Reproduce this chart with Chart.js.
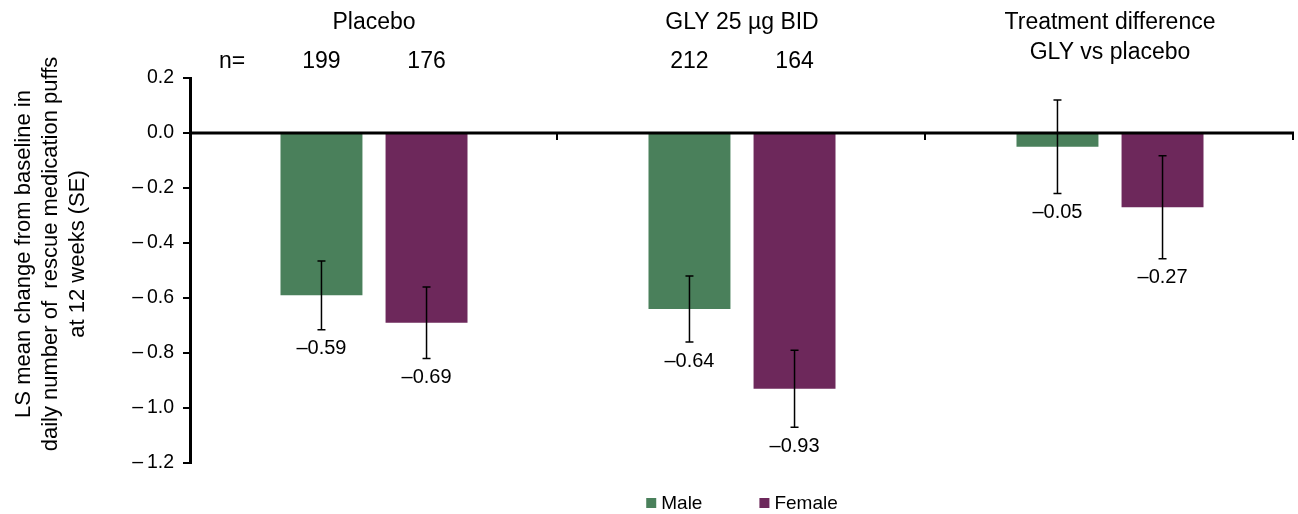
<!DOCTYPE html>
<html>
<head>
<meta charset="utf-8">
<script src="https://cdn.jsdelivr.net/npm/chart.js@4/dist/chart.umd.min.js"></script>
<style>
  html, body { margin: 0; padding: 0; background: #fff; }
  #wrap { width: 1298px; height: 514px; position: relative; }
</style>
</head>
<body>
<div id="wrap"><canvas id="chart"></canvas></div>
<script>
const groups = ['Placebo', 'GLY 25 µg BID', ['Treatment difference', 'GLY vs placebo']];
const nMale = [199, 212, null];
const nFemale = [176, 164, null];
const maleValues = [-0.59, -0.64, -0.05];
const femaleValues = [-0.69, -0.93, -0.27];
const maleSE = [0.125, 0.12, 0.17];
const femaleSE = [0.13, 0.14, 0.187];
const yTicks = [0.2, 0.0, -0.2, -0.4, -0.6, -0.8, -1.0, -1.2];
const yTitle = ['LS mean change from baseline in', 'daily number of  rescue medication puffs', 'at 12 weeks (SE)'];

const FONT = 'Liberation Sans, Arial, sans-serif';
const dash = v => v.toFixed(2).replace('-', '\u2013');

const ses = [maleSE, femaleSE];

const overlay = {
    id: 'overlay',
    afterDatasetsDraw(chart) {
        const ctx = chart.ctx;
        const x = chart.scales.x, y = chart.scales.y;
        const area = chart.chartArea;
        const y0 = y.getPixelForValue(0);
        ctx.save();

        // zero line with category ticks
        ctx.strokeStyle = '#000';
        ctx.lineWidth = 3;
        ctx.beginPath();
        ctx.moveTo(area.left, y0);
        ctx.lineTo(area.right, y0);
        ctx.stroke();
        ctx.lineWidth = 2;
        const step = (area.right - area.left) / groups.length;
        for (let i = 1; i <= groups.length; i++) {
            const px = area.left + step * i - 1;
            ctx.beginPath();
            ctx.moveTo(px, y0);
            ctx.lineTo(px, y0 + 7);
            ctx.stroke();
        }

        // error bars and value labels
        ctx.lineWidth = 1.5;
        ctx.font = '20px ' + FONT;
        ctx.fillStyle = '#000';
        ctx.textAlign = 'center';
        ctx.textBaseline = 'middle';
        chart.data.datasets.forEach((ds, di) => {
            const meta = chart.getDatasetMeta(di);
            meta.data.forEach((bar, i) => {
                const v = ds.data[i];
                const se = ses[di][i];
                const top = y.getPixelForValue(v + se);
                const bot = y.getPixelForValue(v - se);
                ctx.beginPath();
                ctx.moveTo(bar.x, top); ctx.lineTo(bar.x, bot);
                ctx.moveTo(bar.x - 4, top); ctx.lineTo(bar.x + 4, top);
                ctx.moveTo(bar.x - 4, bot); ctx.lineTo(bar.x + 4, bot);
                ctx.stroke();
                ctx.fillText(dash(v), bar.x, bot + 19);
            });
        });

        // group headers
        ctx.font = '23px ' + FONT;
        groups.forEach((g, i) => {
            const cx = x.getPixelForValue(i);
            const lines = Array.isArray(g) ? g : [g];
            lines.forEach((l, li) => ctx.fillText(l, cx, 23 + li * 30));
        });

        // n row
        const male = chart.getDatasetMeta(0).data;
        const female = chart.getDatasetMeta(1).data;
        ctx.fillText('n=', 232, 62);
        nMale.forEach((n, i) => { if (n != null) ctx.fillText(String(n), male[i].x, 62); });
        nFemale.forEach((n, i) => { if (n != null) ctx.fillText(String(n), female[i].x, 62); });

        // y axis title
        ctx.save();
        ctx.font = '22px ' + FONT;
        ctx.translate(0, 254);
        ctx.rotate(-Math.PI / 2);
        yTitle.forEach((l, li) => ctx.fillText(l, 0, 24 + li * 27));
        ctx.restore();

        // legend
        ctx.font = '19px ' + FONT;
        ctx.textAlign = 'left';
        const items = chart.data.datasets.map(ds => ({ text: ds.label, color: ds.backgroundColor }));
        const widths = items.map(it => 15 + ctx.measureText(it.text).width);
        const gap = 57;
        const total = widths.reduce((a, b) => a + b, 0) + gap * (items.length - 1);
        let lx = (area.left + area.right) / 2 - total / 2;
        const ly = 503;
        items.forEach((it, i) => {
            ctx.fillStyle = it.color;
            ctx.fillRect(lx, ly - 5, 10, 10);
            ctx.fillStyle = '#000';
            ctx.fillText(it.text, lx + 15, ly + 1);
            lx += widths[i] + gap;
        });

        ctx.restore();
    }
};

new Chart(document.getElementById('chart'), {
    type: 'bar',
    data: {
        labels: groups,
        datasets: [
            { label: 'Male', data: maleValues, backgroundColor: '#4a805b' },
            { label: 'Female', data: femaleValues, backgroundColor: '#6d285b' }
        ]
    },
    options: {
        responsive: true,
        maintainAspectRatio: false,
        animation: false,
        categoryPercentage: 0.571,
        barPercentage: 0.78,
        layout: { padding: { top: 78, right: 4, left: 0, bottom: 51 } },
        scales: {
            x: { display: false },
            y: {
                min: -1.2,
                max: 0.2,
                afterFit: s => { s.width = 190; },
                afterBuildTicks: s => { s.ticks = yTicks.map(v => ({ value: v })); },
                border: { color: '#000', width: 3 },
                grid: { drawOnChartArea: false, drawTicks: true, tickLength: 7, color: '#000', lineWidth: 2 },
                ticks: {
                    color: '#000',
                    padding: 9,
                    font: { size: 19.5, family: FONT },
                    callback: v => v.toFixed(1).replace('-', '\u2013\u2009')
                },
                title: { display: false }
            }
        },
        plugins: {
            legend: { display: false },
            tooltip: { enabled: false }
        }
    },
    plugins: [overlay]
});
</script>
</body>
</html>
